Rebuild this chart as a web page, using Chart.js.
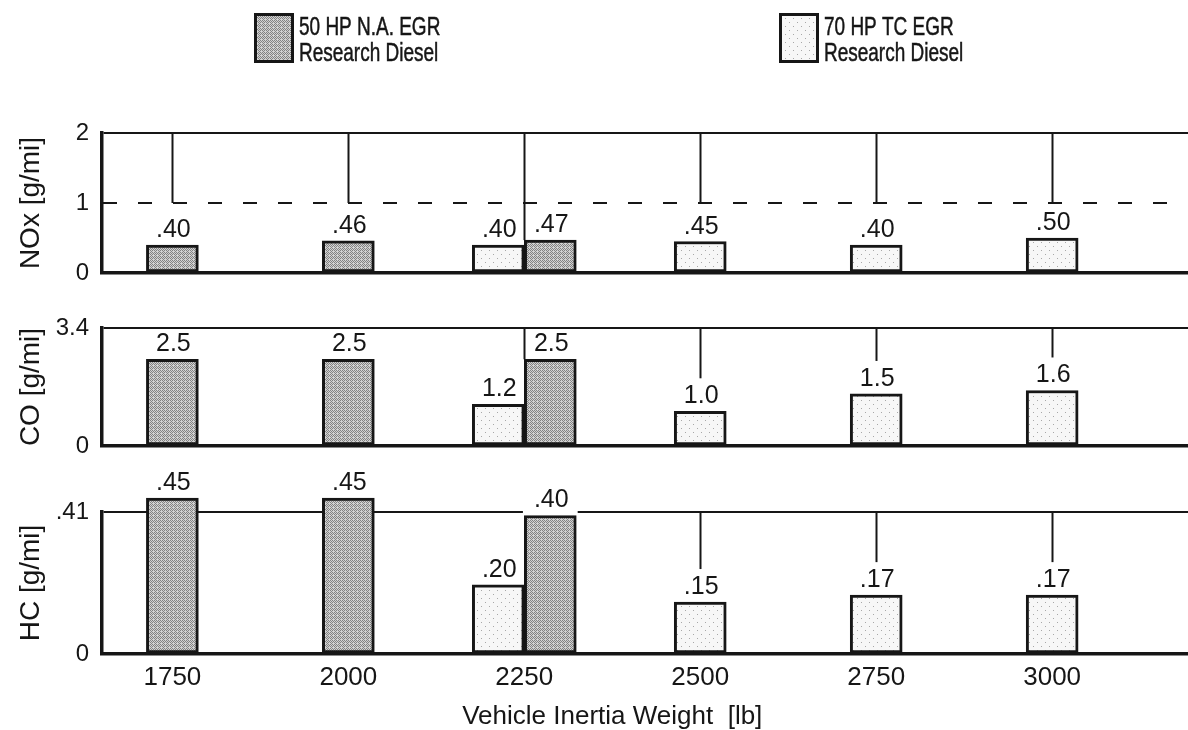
<!DOCTYPE html>
<html>
<head>
<meta charset="utf-8">
<script src="https://cdn.jsdelivr.net/npm/chart.js@4.4.1/dist/chart.umd.min.js"></script>
<style>
  html, body { margin: 0; padding: 0; background: #fff; }
  #wrap { position: relative; width: 1188px; height: 730px; overflow: hidden; background: #fff; }
  canvas { position: absolute; left: 0; }
</style>
</head>
<body>
<div id="wrap">
  <canvas id="noxChart"></canvas>
  <canvas id="coChart"></canvas>
  <canvas id="hcChart"></canvas>
</div>
<script>
// Vehicle inertia weight classes [lb]
const weights = [1750, 2000, 2250, 2500, 2750, 3000];

// Series names (two lines each)
const naName = ['50 HP N.A. EGR', 'Research Diesel'];
const tcName = ['70 HP TC EGR', 'Research Diesel'];

// NOx [g/mi]
const noxNA = [0.40, 0.46, 0.47, null, null, null];
const noxTC = [null, null, 0.40, 0.45, 0.40, 0.50];
// CO [g/mi]
const coNA = [2.5, 2.5, 2.5, null, null, null];
const coTC = [null, null, 1.2, 1.0, 1.5, 1.6];
// HC [g/mi]
const hcNA = [0.45, 0.45, 0.40, null, null, null];
const hcTC = [null, null, 0.20, 0.15, 0.17, 0.17];

// Emission standards: the frame top of each panel, and the dashed NOx line
const noxStandard = 2;
const noxResearchGoal = 1;
const coStandard = 3.4;
const hcStandard = 0.41;

// Y tick values
const noxTicks = [0, 1, 2];
const coTicks = [0, 3.4];
const hcTicks = [0, 0.41];

const xTitle = 'Vehicle Inertia Weight  [lb]';

// ---------------------------------------------------------------
const ink = '#161616';
const family = '"Liberation Sans", Arial, Helvetica, sans-serif';
Chart.defaults.font.family = family;
Chart.defaults.color = ink;

function makeFill(kind) {
  const c = document.createElement('canvas');
  const g = c.getContext('2d');
  if (kind === 'dark') {
    c.width = c.height = 4;
    g.fillStyle = '#d2d2d2'; g.fillRect(0, 0, 4, 4);
    g.fillStyle = '#838383';
    [[0, 0], [2, 0], [1, 1], [3, 1], [0, 2], [2, 2], [3, 3]].forEach(p => g.fillRect(p[0], p[1], 1, 1));
  } else {
    c.width = c.height = 8;
    g.fillStyle = '#f7f7f7'; g.fillRect(0, 0, 8, 8);
    g.fillStyle = '#a8a8a8';
    g.fillRect(1, 2, 1, 1); g.fillRect(5, 6, 1, 1);
  }
  return g.createPattern(c, 'repeat');
}
const darkFill = makeFill('dark');
const lightFill = makeFill('light');

function fmtNum(v, digits) {
  const s = digits == null ? String(v) : v.toFixed(digits);
  return s.replace(/^0\./, '.');
}

const LABEL_SIZE = 25;
const LABEL_CAP = 18;
const LABEL_GAP = 8;

// value label geometry for every drawn bar
function eachLabel(chart, cb) {
  chart.data.datasets.forEach((ds, di) => {
    const meta = chart.getDatasetMeta(di);
    ds.data.forEach((pt, i) => {
      if (pt.y == null) return;
      const el = meta.data[i];
      cb(i, el.x, el.y - LABEL_GAP, pt.y, el.y);
    });
  });
}

const panelMarks = {
  id: 'panelMarks',
  beforeDatasetsDraw(chart, args, o) {
    const { ctx, chartArea } = chart;
    ctx.save();
    // white patch behind each value label (breaks the standard line)
    ctx.font = LABEL_SIZE + 'px ' + family;
    ctx.fillStyle = '#fff';
    eachLabel(chart, (i, x, base, v, barTop) => {
      const w = ctx.measureText(fmtNum(v, o.digits)).width;
      const top = base - LABEL_CAP - 3;
      ctx.fillRect(x - w / 2 - 10, top, w + 20, barTop - top);
    });
    // dashed NOx line
    if (o.limit != null) {
      const y = chart.scales.y.getPixelForValue(o.limit);
      ctx.strokeStyle = ink;
      ctx.lineWidth = 2.2;
      ctx.setLineDash([14, 21]);
      ctx.beginPath();
      ctx.moveTo(chartArea.left + 1, y);
      ctx.lineTo(chartArea.right, y);
      ctx.stroke();
    }
    ctx.restore();
  },
  afterDatasetsDraw(chart, args, o) {
    const { ctx, chartArea, scales } = chart;
    const yTop = chartArea.top;
    ctx.save();
    // stems from the standard line down to each weight class
    ctx.strokeStyle = ink;
    ctx.lineWidth = 2;
    weights.forEach((w, i) => {
      const marks = [];
      chart.data.datasets.forEach((ds, di) => {
        const v = ds.data[i].y;
        if (v == null) return;
        const el = chart.getDatasetMeta(di).data[i];
        marks.push({ barTop: el.y, labelTop: el.y - LABEL_GAP - LABEL_CAP });
      });
      if (!marks.length) return;
      if (marks.some(m => m.labelTop < yTop + 2)) return;
      let end;
      if (marks.length > 1) {
        end = Math.min(...marks.map(m => m.barTop));
      } else {
        end = marks[0].labelTop - 7;
        if (o.limit != null) end = Math.min(end, scales.y.getPixelForValue(o.limit));
      }
      if (end - yTop < 4) return;
      const x = Math.round(scales.x.getPixelForValue(w)) + 0.5;
      ctx.beginPath();
      ctx.moveTo(x, yTop);
      ctx.lineTo(x, end);
      ctx.stroke();
    });
    // value labels
    ctx.font = LABEL_SIZE + 'px ' + family;
    ctx.fillStyle = ink;
    ctx.textAlign = 'center';
    ctx.textBaseline = 'alphabetic';
    eachLabel(chart, (i, x, base, v) => {
      ctx.fillText(fmtNum(v, o.digits), x + 1, base);
    });
    ctx.restore();
  },
  afterDraw(chart, args, o) {
    const { ctx, scales } = chart;
    ctx.save();
    ctx.fillStyle = ink;
    if (o.legend) {
      const items = [
        { x: 254, fill: darkFill, text: naName },
        { x: 779, fill: lightFill, text: tcName }
      ];
      items.forEach(it => {
        ctx.fillStyle = it.fill;
        ctx.fillRect(it.x, 13, 40, 50);
        ctx.strokeStyle = ink;
        ctx.lineWidth = 3;
        ctx.strokeRect(it.x + 1.5, 14.5, 37, 47);
        ctx.fillStyle = ink;
        ctx.strokeStyle = ink;
        ctx.lineWidth = 0.5;
        ctx.font = '26px ' + family;
        ctx.textAlign = 'left';
        it.text.forEach((t, k) => {
          ctx.save();
          ctx.translate(it.x + 45, 35 + k * 26);
          ctx.scale(0.73, 1);
          ctx.fillText(t, 0, 0);
          ctx.strokeText(t, 0, 0);
          ctx.restore();
        });
      });
    }
    if (o.xTitle) {
      const cx = (scales.x.getPixelForValue(weights[0]) + scales.x.getPixelForValue(weights[weights.length - 1])) / 2;
      ctx.font = '26px ' + family;
      ctx.textAlign = 'center';
      ctx.textBaseline = 'alphabetic';
      ctx.fillText(o.xTitle, cx, chart.height - 6);
    }
    ctx.restore();
  }
};

function panel(id, cfg) {
  const canvas = document.getElementById(id);
  canvas.width = 1188;
  canvas.height = cfg.height;
  canvas.style.top = cfg.top + 'px';
  const barStyle = {
    borderColor: ink,
    borderWidth: 3,
    borderSkipped: false,
    barThickness: 52,
    skipNull: true,
    clip: false
  };
  return new Chart(canvas, {
    type: 'bar',
    data: {
      datasets: [
        Object.assign({ label: tcName.join(' '), data: weights.map((w, i) => ({ x: w, y: cfg.tc[i] })), backgroundColor: lightFill }, barStyle),
        Object.assign({ label: naName.join(' '), data: weights.map((w, i) => ({ x: w, y: cfg.na[i] })), backgroundColor: darkFill }, barStyle)
      ]
    },
    options: {
      responsive: false,
      animation: false,
      devicePixelRatio: 1,
      layout: { padding: { top: cfg.padTop, left: 0, right: 0, bottom: 0 } },
      plugins: {
        legend: { display: false },
        tooltip: { enabled: false },
        panelMarks: { digits: cfg.digits, limit: cfg.limit, legend: cfg.legend, xTitle: cfg.xTitle }
      },
      scales: {
        x: {
          type: 'linear',
          offset: false,
          min: 1650,
          max: 3193,
          afterBuildTicks: ax => { ax.ticks = weights.map(v => ({ value: v })); },
          afterFit: ax => { ax.height = cfg.xAxisHeight; ax.paddingLeft = 0; ax.paddingRight = 0; },
          ticks: { display: !!cfg.xTitle, callback: v => String(v), font: { size: 26 }, padding: 8, maxRotation: 0, autoSkip: false, color: ink },
          grid: { display: false, drawTicks: false, offset: false },
          border: { display: true, color: ink, width: 3.5, z: 1 }
        },
        y: {
          min: 0,
          max: cfg.frameTop,
          afterBuildTicks: ax => { ax.ticks = cfg.ticks.map(v => ({ value: v })); },
          afterFit: ax => { ax.width = 102; ax.paddingTop = 0; ax.paddingBottom = 0; },
          ticks: { callback: v => fmtNum(v), font: { size: 24 }, padding: 13, color: ink },
          grid: {
            drawTicks: false,
            lineWidth: 2,
            color: c => (c.tick && c.tick.value === cfg.frameTop) ? ink : 'rgba(0,0,0,0)'
          },
          border: { display: true, color: ink, width: 3.5, z: 1 },
          title: { display: true, text: cfg.title, font: { size: 28 }, padding: { top: 14, bottom: 0 }, color: ink }
        }
      }
    },
    plugins: [panelMarks]
  });
}

panel('noxChart', {
  top: 0, height: 300, padTop: 133, xAxisHeight: 27,
  tc: noxTC, na: noxNA, frameTop: noxStandard, ticks: noxTicks, limit: noxResearchGoal,
  digits: 2, title: 'NOx [g/mi]', legend: true
});
panel('coChart', {
  top: 290, height: 170, padTop: 38, xAxisHeight: 14,
  tc: coTC, na: coNA, frameTop: coStandard, ticks: coTicks,
  digits: 1, title: 'CO [g/mi]'
});
panel('hcChart', {
  top: 460, height: 270, padTop: 52, xAxisHeight: 76,
  tc: hcTC, na: hcNA, frameTop: hcStandard, ticks: hcTicks,
  digits: 2, title: 'HC [g/mi]', xTitle: xTitle
});
</script>
</body>
</html>
